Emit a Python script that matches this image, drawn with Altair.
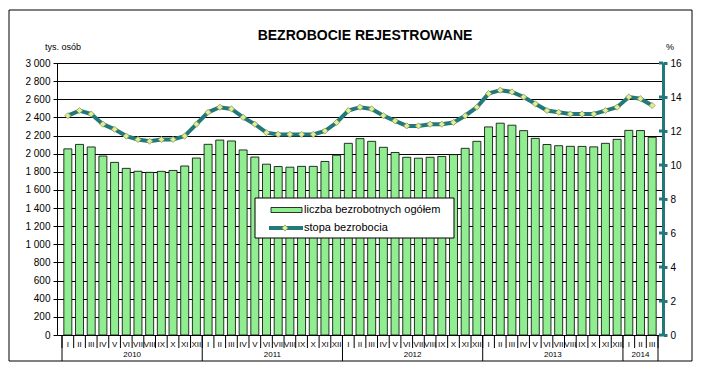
import altair as alt
import pandas as pd

# ---- data ----
month_names = ['I', 'II', 'III', 'IV', 'V', 'VI', 'VII', 'VIII', 'IX', 'X', 'XI', 'XII']
start_year = 2010

# registered unemployed, thousands
counts = [2053, 2102, 2074, 1974, 1904, 1838, 1806, 1794, 1805, 1815, 1864, 1952,
          2103, 2150, 2140, 2041, 1963, 1884, 1858, 1851, 1860, 1860, 1914, 1983,
          2114, 2166, 2136, 2070, 2013, 1960, 1950, 1960, 1969, 1990, 2059, 2136,
          2295, 2336, 2314, 2254, 2169, 2101, 2088, 2081, 2080, 2075, 2114, 2158,
          2257, 2255, 2181]

# unemployment rate, %
rates = [12.9, 13.2, 13.0, 12.4, 12.1, 11.7, 11.5, 11.4, 11.5, 11.5, 11.7, 12.4,
         13.1, 13.4, 13.3, 12.8, 12.4, 11.9, 11.8, 11.8, 11.8, 11.8, 12.0, 12.5,
         13.2, 13.4, 13.3, 12.9, 12.6, 12.3, 12.3, 12.4, 12.4, 12.5, 12.9, 13.4,
         14.2, 14.4, 14.3, 14.0, 13.6, 13.2, 13.1, 13.0, 13.0, 13.0, 13.2, 13.4,
         14.0, 13.9, 13.5]

left_ticks = list(range(0, 3001, 200))
right_ticks = list(range(0, 17, 2))

title_text = 'BEZROBOCIE REJESTROWANE'
left_title = 'tys. osób'
right_title = '%'
legend_bar = 'liczba bezrobotnych ogółem'
legend_line = 'stopa bezrobocia'

# ---- tables ----
n = len(counts)
df = pd.DataFrame({
    'idx': list(range(n)),
    'month': [month_names[i % 12] for i in range(n)],
    'year': [str(start_year + i // 12) for i in range(n)],
    'count': counts,
    'rate': rates,
})
df['c'] = df['idx'] + 0.5

yg = df.groupby('year')['idx'].agg(['min', 'max']).reset_index()
yg['mid'] = (yg['min'] + yg['max'] + 1) / 2.0
year_bounds = pd.DataFrame({'b': sorted(set(list(yg['min']) + [n]))})
month_bounds = pd.DataFrame({'b': list(range(n + 1))})
rticks = pd.DataFrame({'v': right_ticks})
one = pd.DataFrame({'a': [0]})

W, H = 606, 272
TEAL = '#23797A'
GREEN = '#90EE90'
xs = alt.Scale(domain=[0, n], nice=False, zero=False)
X = alt.X('c:Q', scale=xs, axis=None)
rscale = alt.Scale(domain=[0, 16], nice=False)

border = alt.Chart(one).mark_rect(fill='white', fillOpacity=0, stroke='black', strokeWidth=1).encode(
    x=alt.value(-48), x2=alt.value(635), y=alt.value(-53), y2=alt.value(298))

bars = alt.Chart(df).mark_bar(size=8, color=GREEN, stroke='black', strokeWidth=0.8).encode(
    x=X,
    y=alt.Y('count:Q', scale=alt.Scale(domain=[0, 3000], nice=False),
            axis=alt.Axis(orient='left', values=left_ticks, title=None,
                          grid=True, gridColor='black', gridWidth=1, gridOpacity=1,
                          domainColor='black', domainWidth=1, tickColor='black', tickSize=4,
                          labelFontSize=10, labelColor='black', labelPadding=3,
                          labelExpr="replace(format(datum.value, ','), ',', ' ')")),
)

line = alt.Chart(df).mark_line(
    color=TEAL, strokeWidth=4,
    point=alt.OverlayMarkDef(shape='diamond', filled=True, fill='#E2EE94', stroke='#8C9A5E',
                             strokeWidth=0.8, size=38, opacity=1)
).encode(
    x=X,
    y=alt.Y('rate:Q', scale=rscale,
            axis=alt.Axis(orient='right', values=right_ticks, title=None, grid=False,
                          domainColor=TEAL, domainWidth=3, tickColor=TEAL, tickWidth=3, tickSize=4,
                          labelFontSize=10, labelColor='black', labelPadding=3)),
)

inner_ticks = alt.Chart(rticks).mark_rule(color=TEAL, strokeWidth=3).encode(
    x=alt.value(W - 4), x2=alt.value(W),
    y=alt.Y('v:Q', scale=rscale, axis=None))

month_sep = alt.Chart(month_bounds).mark_rule(color='black', strokeWidth=1).encode(
    x=alt.X('b:Q', scale=xs, axis=None), y=alt.value(272), y2=alt.value(285))
year_sep = alt.Chart(year_bounds).mark_rule(color='black', strokeWidth=1).encode(
    x=alt.X('b:Q', scale=xs, axis=None), y=alt.value(272), y2=alt.value(298))

month_lbl = alt.Chart(df).mark_text(fontSize=8, baseline='middle', color='black').encode(
    x=X, y=alt.value(281.5), text='month:N')
year_lbl = alt.Chart(yg).mark_text(fontSize=8, baseline='middle', color='black').encode(
    x=alt.X('mid:Q', scale=xs, axis=None), y=alt.value(292), text='year:N')

title = alt.Chart(one).mark_text(fontSize=14, fontWeight='bold', align='center', baseline='middle',
                                 color='black').encode(
    x=alt.value(308), y=alt.value(-27), text=alt.value(title_text))
ltitle = alt.Chart(one).mark_text(fontSize=9, align='left', baseline='middle', color='black').encode(
    x=alt.value(-12), y=alt.value(-16), text=alt.value(left_title))
rtitle = alt.Chart(one).mark_text(fontSize=9, align='left', baseline='middle', color='black').encode(
    x=alt.value(609), y=alt.value(-16), text=alt.value(right_title))

leg_box = alt.Chart(one).mark_rect(fill='white', stroke='black', strokeWidth=1).encode(
    x=alt.value(198), x2=alt.value(397), y=alt.value(135), y2=alt.value(175))
leg_sw = alt.Chart(one).mark_rect(fill=GREEN, stroke='black', strokeWidth=0.8).encode(
    x=alt.value(214), x2=alt.value(245), y=alt.value(144.5), y2=alt.value(149.5))
leg_t1 = alt.Chart(one).mark_text(fontSize=11, align='left', baseline='middle', color='black').encode(
    x=alt.value(247), y=alt.value(147), text=alt.value(legend_bar))
leg_ln = alt.Chart(one).mark_rule(color=TEAL, strokeWidth=4).encode(
    x=alt.value(212), x2=alt.value(246), y=alt.value(165))
leg_pt = alt.Chart(one).mark_point(shape='diamond', filled=True, fill='#E2EE94', stroke='#8C9A5E',
                                   strokeWidth=0.8, size=38, opacity=1).encode(
    x=alt.value(228), y=alt.value(165))
leg_t2 = alt.Chart(one).mark_text(fontSize=11, align='left', baseline='middle', color='black').encode(
    x=alt.value(247), y=alt.value(165), text=alt.value(legend_line))

chart = alt.layer(
    border, bars, line, inner_ticks, month_sep, year_sep, month_lbl, year_lbl,
    title, ltitle, rtitle, leg_box, leg_sw, leg_t1, leg_ln, leg_pt, leg_t2
).resolve_scale(y='independent').properties(
    width=W, height=H,
    autosize=alt.AutoSizeParams(type='none'),
    padding={'left': 57, 'top': 63, 'right': 38, 'bottom': 38},
).configure(font='Liberation Sans').configure_view(strokeWidth=0)

chart.save('out.html', embed_options={'renderer': 'svg', 'actions': False})
